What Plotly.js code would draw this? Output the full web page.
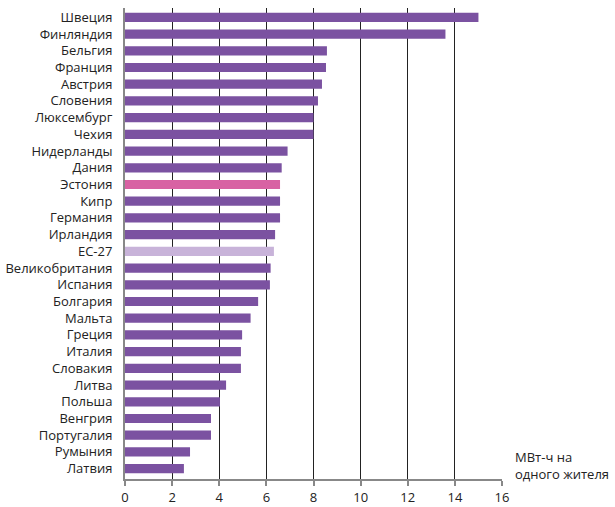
<!DOCTYPE html>
<html>
<head>
<meta charset="utf-8">
<script src="https://cdn.plot.ly/plotly-3.0.1.min.js"></script>
<style>html,body{margin:0;padding:0;background:#fff}#chart{width:615px;height:507px}</style>
</head>
<body>
<div id="chart"></div>
<script>
var countries = ["Швеция","Финляндия","Бельгия","Франция","Австрия","Словения","Люксембург","Чехия","Нидерланды","Дания","Эстония","Кипр","Германия","Ирландия","ЕС-27","Великобритания","Испания","Болгария","Мальта","Греция","Италия","Словакия","Литва","Польша","Венгрия","Португалия","Румыния","Латвия"];
var values = [15.0,13.6,8.57,8.53,8.36,8.19,8.0,8.0,6.9,6.65,6.58,6.58,6.58,6.37,6.32,6.18,6.15,5.65,5.33,4.97,4.92,4.92,4.29,4.03,3.65,3.65,2.76,2.5];
var xTicks = [0,2,4,6,8,10,12,14,16];
var unitLabel = "МВт-ч на<br>одного жителя";

var colors = countries.map(function(c){
  if (c === "Эстония") return "#d862a3";
  if (c === "ЕС-27") return "#c8b3d9";
  return "#7b52a1";
});

var trace = {
  type: "bar",
  orientation: "h",
  x: values,
  y: countries,
  marker: {color: colors, line: {width: 0}},
  width: 0.55,
  hoverinfo: "none"
};

var layout = {
  width: 615, height: 507,
  margin: {l: 125, r: 113, t: 8, b: 28, pad: 0},
  paper_bgcolor: "#fff", plot_bgcolor: "#fff",
  showlegend: false,
  font: {family: "Open Sans, Noto Sans, sans-serif", color: "#222"},
  xaxis: {
    range: [0, 16],
    tickvals: xTicks,
    ticktext: xTicks.map(String),
    showgrid: true, gridcolor: "#222", gridwidth: 1,
    zeroline: false,
    showline: true, linecolor: "#888", linewidth: 2,
    ticks: "outside", ticklen: 5, tickwidth: 2, tickcolor: "#888",
    tickfont: {size: 13, color: "#222"},
    fixedrange: true
  },
  yaxis: {
    type: "category",
    categoryorder: "array", categoryarray: countries,
    range: [27.62, -0.56],
    showgrid: false, zeroline: false,
    showline: true, linecolor: "#888", linewidth: 2,
    ticks: "outside", ticklen: 8, tickcolor: "rgba(0,0,0,0)",
    tickfont: {size: 13, color: "#222"},
    fixedrange: true
  },
  annotations: [{
    text: unitLabel, xref: "paper", yref: "paper",
    x: 1.0, y: 0.0, xanchor: "left", yanchor: "bottom",
    xshift: 11, yshift: -6,
    showarrow: false, align: "left",
    font: {size: 13, color: "#222"}
  }]
};

Plotly.newPlot("chart", [trace], layout, {staticPlot: true, displayModeBar: false});
</script>
</body>
</html>
